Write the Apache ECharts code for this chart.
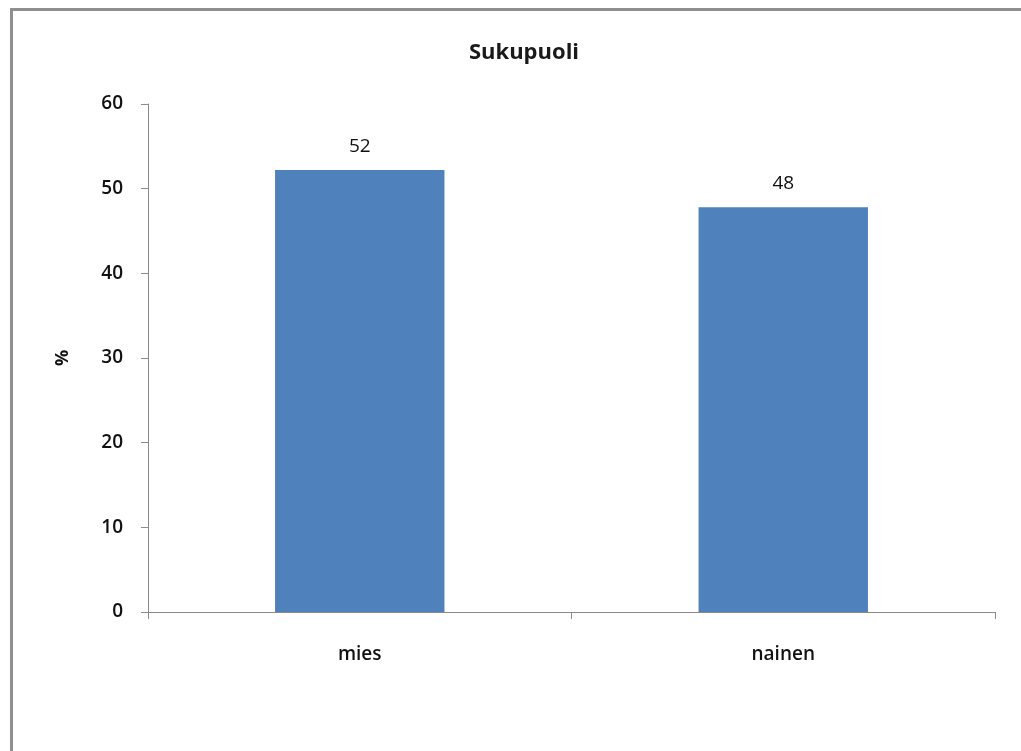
<!DOCTYPE html>
<html>
<head>
<meta charset="utf-8">
<script src="https://cdn.jsdelivr.net/npm/echarts@6/dist/echarts.min.js"></script>
<style>
  html, body { margin: 0; padding: 0; background: #fff; }
  #frame {
    position: absolute; left: 10px; top: 8px; width: 1030px; height: 760px;
    border-left: 3px solid #8f8f8f; border-top: 3px solid #8f8f8f;
  }
  #chart { position: absolute; left: 0; top: 0; width: 1021px; height: 751px; }
</style>
</head>
<body>
<div id="frame"></div>
<div id="chart"></div>
<script>
// data
const categories = ['mies', 'nainen'];
const percentValues = [52.2, 47.8];
const yTicks = { min: 0, max: 60, interval: 10 };

const font = 'Open Sans';

var myChart = echarts.init(document.getElementById('chart'));

var option = {
    backgroundColor: 'transparent',
    animation: false,
    title: {
        text: 'Sukupuoli',
        left: 519,
        textAlign: 'center',
        top: 37,
        textStyle: { fontFamily: font, fontSize: 22, fontWeight: 'bold', color: '#1a1a1a' }
    },
    grid: { left: 148, right: 26, top: 104, bottom: 139 },
    xAxis: {
        type: 'category',
        data: categories,
        axisLine: { lineStyle: { color: '#8a8a8a', width: 1 } },
        axisTick: { show: true, length: 7, lineStyle: { color: '#8a8a8a' } },
        axisLabel: { margin: 33, fontFamily: font, fontSize: 19, fontWeight: 600, color: '#111' }
    },
    yAxis: {
        type: 'value',
        min: yTicks.min,
        max: yTicks.max,
        interval: yTicks.interval,
        name: '%',
        nameLocation: 'middle',
        nameGap: 76,
        nameRotate: 90,
        nameTextStyle: { fontFamily: font, fontSize: 18, fontWeight: 'bold', color: '#111' },
        axisLine: { show: true, lineStyle: { color: '#8a8a8a', width: 1 } },
        axisTick: { show: true, length: 7, lineStyle: { color: '#8a8a8a' } },
        axisLabel: { margin: 25, fontFamily: font, fontSize: 19, fontWeight: 600, color: '#111' },
        splitLine: { show: false }
    },
    series: [{
        type: 'bar',
        data: percentValues,
        barWidth: '40%',
        itemStyle: { color: '#4f81bd' },
        label: {
            show: true,
            position: 'top',
            distance: 14,
            fontFamily: font,
            fontSize: 19,
            color: '#111',
            formatter: function (p) { return Math.round(p.value); }
        }
    }]
};

myChart.setOption(option);
</script>
</body>
</html>
